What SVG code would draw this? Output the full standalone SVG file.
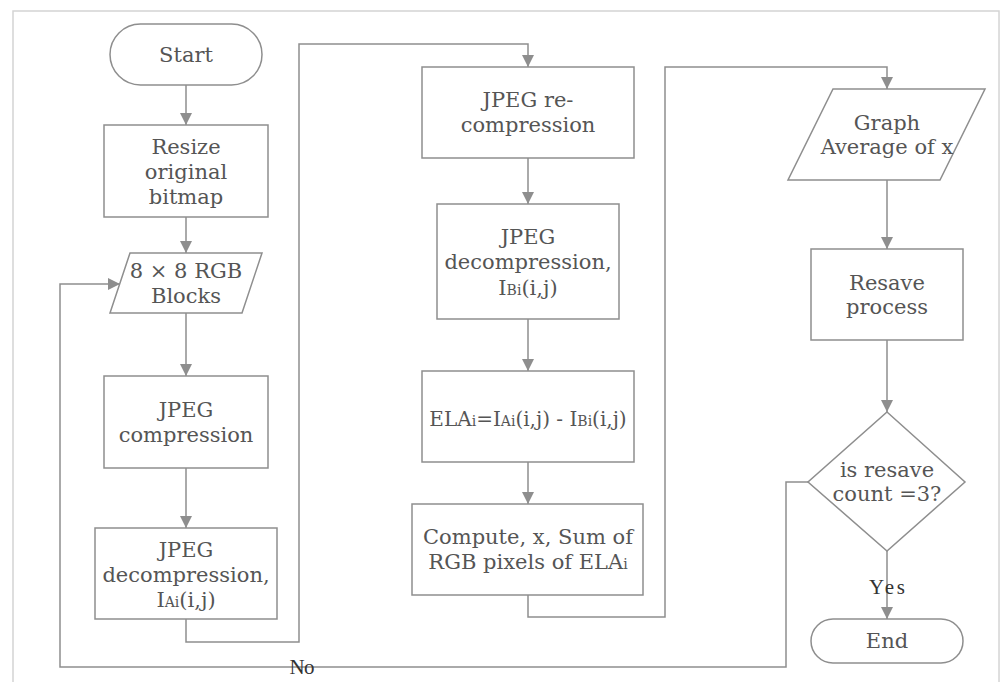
<svg xmlns="http://www.w3.org/2000/svg" width="1000" height="682" viewBox="0 0 1000 682">
<style>
.n{fill:#fff;stroke:#8e8e8e;stroke-width:1.5}
.t{font-family:"DejaVu Serif","Liberation Serif",serif;font-size:21px;fill:#555;text-anchor:middle}
.s{font-size:14px}
.c{fill:none;stroke:#8e8e8e;stroke-width:1.5}
.l{font-family:"Liberation Serif",serif;font-size:21px;fill:#333;text-anchor:middle}
</style>
<defs>
<marker id="a" markerUnits="userSpaceOnUse" markerWidth="12" markerHeight="12" viewBox="0 0 12 12" refX="12" refY="6" orient="auto">
<path d="M0,0 L12,6 L0,12 z" fill="#8e8e8e"/>
</marker>
</defs>
<rect x="13" y="11" width="986" height="700" fill="none" stroke="#d4d4d4" stroke-width="1.5"/>
<g id="connectors">
<path class="c" d="M186,85 V125" marker-end="url(#a)"/>
<path class="c" d="M186,217 V253" marker-end="url(#a)"/>
<path class="c" d="M186,313 V376" marker-end="url(#a)"/>
<path class="c" d="M186,468 V528" marker-end="url(#a)"/>
<path class="c" d="M186,619 V642 H299 V44 H528 V67" marker-end="url(#a)"/>
<path class="c" d="M528,158 V204" marker-end="url(#a)"/>
<path class="c" d="M528,319 V371" marker-end="url(#a)"/>
<path class="c" d="M528,462 V504" marker-end="url(#a)"/>
<path class="c" d="M528,595 V617 H665 V67 H887 V89" marker-end="url(#a)"/>
<path class="c" d="M887,180 V249" marker-end="url(#a)"/>
<path class="c" d="M887,340 V412" marker-end="url(#a)"/>
<path class="c" d="M887,551 V619" marker-end="url(#a)"/>
<path class="c" d="M808,482 H786 V667 H60 V284 H120" marker-end="url(#a)"/>
<text class="l" x="302" y="674" textLength="25" lengthAdjust="spacing">No</text>
<text class="l" x="887" y="594" textLength="36" lengthAdjust="spacing">Yes</text>
</g>
<g id="start">
<rect class="n" x="110" y="24" width="152" height="61" rx="30.5"/>
<text class="t" x="186" y="62">Start</text>
</g>
<g id="resize">
<rect class="n" x="104" y="125" width="164" height="92"/>
<text class="t" x="186" y="154">Resize</text>
<text class="t" x="186" y="179">original</text>
<text class="t" x="186" y="204">bitmap</text>
</g>
<g id="blocks">
<polygon class="n" points="130,253 262,253 242,313 110,313"/>
<text class="t" x="186" y="278">8 × 8 RGB</text>
<text class="t" x="186" y="303">Blocks</text>
</g>
<g id="jpegcomp">
<rect class="n" x="104" y="376" width="164" height="92"/>
<text class="t" x="186" y="417">JPEG</text>
<text class="t" x="186" y="442">compression</text>
</g>
<g id="jpegdecompA">
<rect class="n" x="95" y="528" width="182" height="91"/>
<text class="t" x="186" y="557">JPEG</text>
<text class="t" x="186" y="582">decompression,</text>
<text class="t" x="186" y="607">I<tspan class="s">Ai</tspan>(i,j)</text>
</g>
<g id="jpegrecomp">
<rect class="n" x="422" y="67" width="212" height="91"/>
<text class="t" x="528" y="107">JPEG re-</text>
<text class="t" x="528" y="132">compression</text>
</g>
<g id="jpegdecompB">
<rect class="n" x="437" y="204" width="182" height="115"/>
<text class="t" x="528" y="244">JPEG</text>
<text class="t" x="528" y="269">decompression,</text>
<text class="t" x="528" y="295">I<tspan class="s">Bi</tspan>(i,j)</text>
</g>
<g id="ela">
<rect class="n" x="422" y="371" width="212" height="91"/>
<text class="t" x="528" y="426" style="font-size:20px">ELA<tspan class="s">i</tspan>=I<tspan class="s">Ai</tspan>(i,j) - I<tspan class="s">Bi</tspan>(i,j)</text>
</g>
<g id="compute">
<rect class="n" x="412" y="504" width="231" height="91"/>
<text class="t" x="528" y="544">Compute, x, Sum of</text>
<text class="t" x="528" y="569">RGB pixels of ELA<tspan class="s">i</tspan></text>
</g>
<g id="graph">
<polygon class="n" points="833,89 985,89 940,180 788,180"/>
<text class="t" x="887" y="130">Graph</text>
<text class="t" x="887" y="154">Average of x</text>
</g>
<g id="resave">
<rect class="n" x="811" y="249" width="152" height="91"/>
<text class="t" x="887" y="290">Resave</text>
<text class="t" x="887" y="314">process</text>
</g>
<g id="decision">
<polygon class="n" points="887,412 965,482 887,551 808,482"/>
<text class="t" x="887" y="477">is resave</text>
<text class="t" x="887" y="501">count =3?</text>
</g>
<g id="end">
<rect class="n" x="811" y="619" width="152" height="44" rx="22"/>
<text class="t" x="887" y="648">End</text>
</g>
</svg>
